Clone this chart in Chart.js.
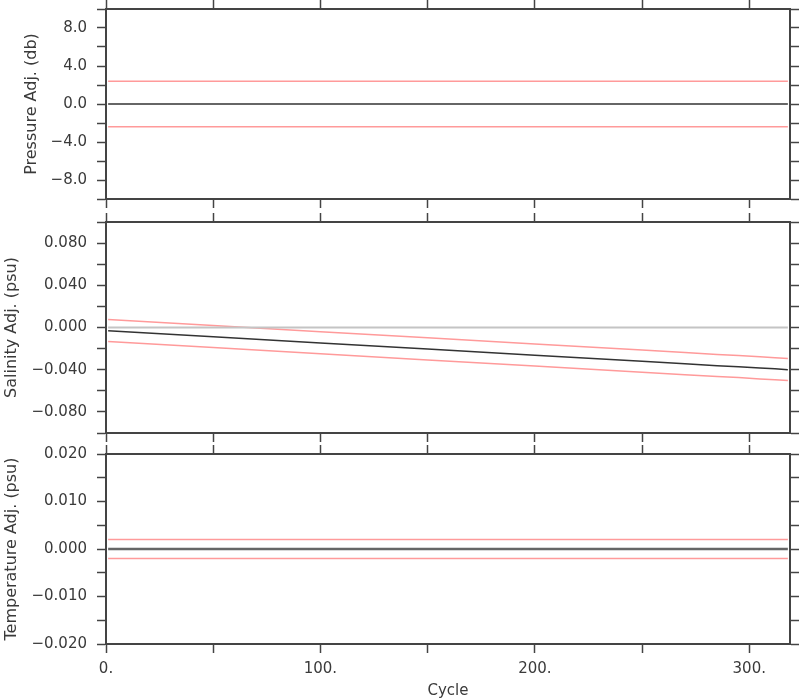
<!DOCTYPE html>
<html>
<head>
<meta charset="utf-8">
<script src="https://cdn.jsdelivr.net/npm/chart.js@4/dist/chart.umd.min.js"></script>
<style>
  body { margin: 0; background: #fff; }
  canvas { position: absolute; left: 0; }
</style>
</head>
<body>
<canvas id="pres" width="800" height="212" style="top:0px"></canvas>
<canvas id="sal" width="800" height="232" style="top:212px"></canvas>
<canvas id="temp" width="800" height="256" style="top:444px"></canvas>
<script>
// x range of the float cycles
const cycleMin = 0;
const cycleMax = 319;
const lineCycles = [1, 318];

// pressure adjustment (db)
const presAdj = [0, 0];
const presUpper = [2.4, 2.4];
const presLower = [-2.4, -2.4];

// salinity adjustment (psu)
const salCycles = [1, 50, 100, 150, 200, 250, 270, 285, 295, 305, 312, 318];
const salAdj = [-0.0030, -0.0087, -0.0146, -0.0204, -0.0262, -0.0320, -0.0344, -0.0362, -0.0371, -0.0383, -0.0391, -0.0400];
const salUpper = [0.0076, 0.0019, -0.0040, -0.0098, -0.0156, -0.0214, -0.0238, -0.0256, -0.0266, -0.0278, -0.0287, -0.0295];
const salLower = [-0.0133, -0.0190, -0.0249, -0.0307, -0.0365, -0.0423, -0.0447, -0.0465, -0.0475, -0.0487, -0.0496, -0.0503];
const salZero = [0, 0];

// temperature adjustment
const tempAdj = [0, 0];
const tempUpper = [0.002, 0.002];
const tempLower = [-0.002, -0.002];

const FONT = { family: "DejaVu Sans", size: 15 };
const TITLE_FONT = { family: "DejaVu Sans", size: 16 };
const TXT = "#3a3a3a";
const AXIS = "#444";
const RED = "#ff9a9a";

function pts(xs, ys) {
  return xs.map((x, i) => ({ x: x, y: ys[i] }));
}

function minus(s) {
  return s.replace("-", "\u2212");
}

// pin the axis box size so the plot areas line up with the picture
function fixed(size, horiz) {
  return function (scale) {
    if (horiz) scale.height = size;
    else scale.width = size;
    scale.paddingTop = 0;
    scale.paddingBottom = 0;
    scale.paddingLeft = 0;
    scale.paddingRight = 0;
  };
}

function grid() {
  return {
    drawOnChartArea: false,
    drawTicks: true,
    tickLength: 9,
    tickColor: AXIS,
    tickWidth: 1.5,
  };
}

function border() {
  return { display: true, color: AXIS, width: 2 };
}

function makeChart(id, datasets, y, opts) {
  const xTicks = {
    stepSize: 50,
    includeBounds: false,
    display: !!opts.xLabels,
    color: TXT,
    font: FONT,
    padding: 7,
    maxRotation: 0,
    autoSkip: false,
    callback: (v) => (v % 100 === 0 ? v + "." : ""),
  };
  return new Chart(document.getElementById(id), {
    type: "line",
    data: { datasets: datasets },
    options: {
      responsive: false,
      animation: false,
      layout: { padding: 0 },
      plugins: { legend: { display: false }, tooltip: { enabled: false } },
      elements: { point: { radius: 0 }, line: { tension: 0 } },
      scales: {
        x: {
          type: "linear",
          position: "bottom",
          min: cycleMin,
          max: cycleMax,
          grid: grid(),
          border: border(),
          ticks: xTicks,
          title: {
            display: !!opts.xLabels,
            text: "Cycle",
            color: TXT,
            font: FONT,
            padding: { top: 0, bottom: 0 },
          },
          afterFit: fixed(opts.bottom, true),
        },
        xTop: {
          type: "linear",
          position: "top",
          min: cycleMin,
          max: cycleMax,
          grid: grid(),
          border: border(),
          ticks: { stepSize: 50, includeBounds: false, display: false },
          afterFit: fixed(opts.top, true),
        },
        y: {
          type: "linear",
          position: "left",
          min: y.min,
          max: y.max,
          grid: grid(),
          border: border(),
          ticks: {
            stepSize: y.step,
            color: TXT,
            font: FONT,
            padding: 10,
            autoSkip: false,
            callback: y.label,
          },
          title: {
            display: true,
            text: y.title,
            color: TXT,
            font: TITLE_FONT,
            padding: { top: y.titlePad, bottom: 0 },
          },
          afterFit: fixed(106, false),
        },
        yRight: {
          type: "linear",
          position: "right",
          min: y.min,
          max: y.max,
          grid: grid(),
          border: border(),
          ticks: { stepSize: y.step, display: false },
          afterFit: fixed(10, false),
        },
      },
    },
  });
}

function line(xs, ys, color, width) {
  return {
    data: pts(xs, ys),
    borderColor: color,
    borderWidth: width,
    pointRadius: 0,
    fill: false,
    xAxisID: "x",
    yAxisID: "y",
  };
}

makeChart(
  "pres",
  [
    line(lineCycles, presUpper, RED, 1.5),
    line(lineCycles, presLower, RED, 1.5),
    line(lineCycles, presAdj, "#333", 1.5),
  ],
  {
    min: -10,
    max: 10,
    step: 2,
    title: "Pressure Adj. (db)",
    titlePad: 22,
    label: (v) => (Math.round(v) % 4 === 0 ? minus(v.toFixed(1)) : ""),
  },
  { top: 9, bottom: 13 }
);

makeChart(
  "sal",
  [
    line(lineCycles, salZero, "#c4c4c4", 2),
    line(salCycles, salUpper, RED, 1.5),
    line(salCycles, salLower, RED, 1.5),
    line(salCycles, salAdj, "#333", 1.5),
  ],
  {
    min: -0.1,
    max: 0.1,
    step: 0.02,
    title: "Salinity Adj. (psu)",
    titlePad: 2,
    label: (v) => {
      const k = Math.round(v * 50);
      return k % 2 === 0 && Math.abs(k) < 5 ? minus(v.toFixed(3)) : "";
    },
  },
  { top: 10, bottom: 11 }
);

makeChart(
  "temp",
  [
    line(lineCycles, tempUpper, RED, 1.5),
    line(lineCycles, tempLower, RED, 1.5),
    line(lineCycles, tempAdj, "#666", 2.5),
  ],
  {
    min: -0.02,
    max: 0.02,
    step: 0.005,
    title: "Temperature Adj. (psu)",
    titlePad: 2,
    label: (v) => {
      const k = Math.round(v * 200);
      return k % 2 === 0 ? minus(v.toFixed(3)) : "";
    },
  },
  { top: 10, bottom: 56, xLabels: true }
);
</script>
</body>
</html>
